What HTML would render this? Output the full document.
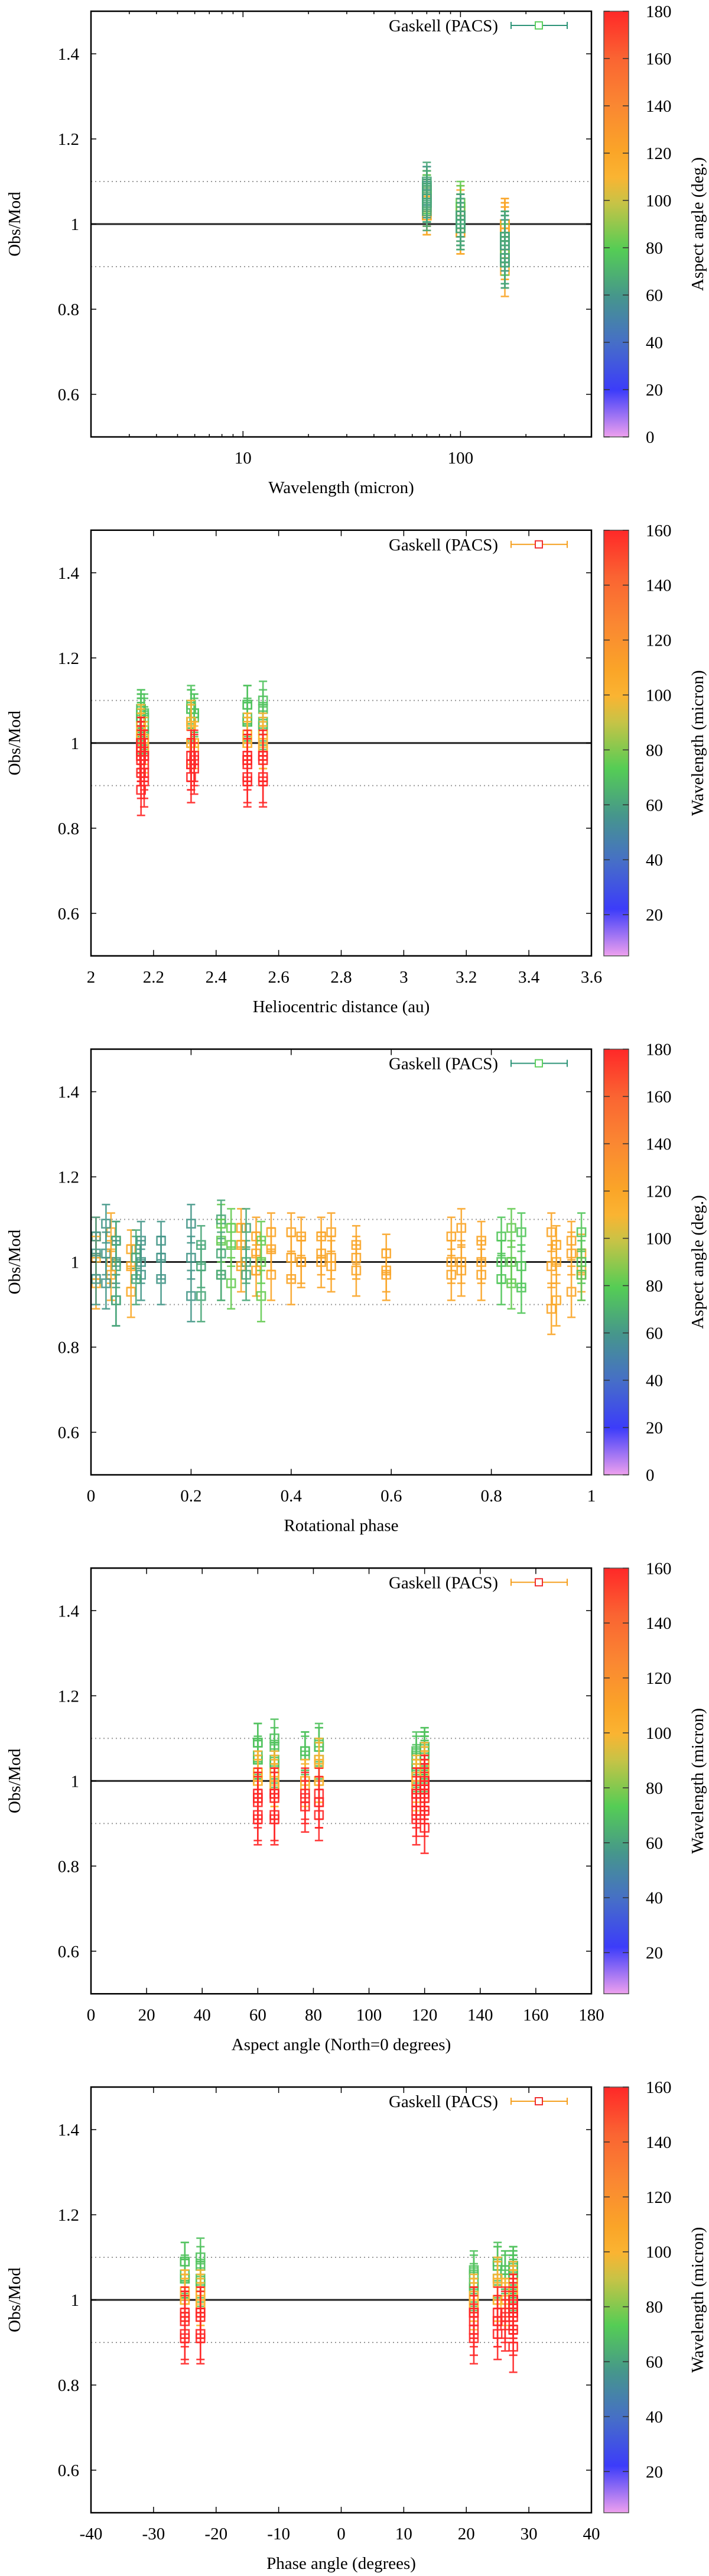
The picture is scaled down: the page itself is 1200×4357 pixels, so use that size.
<!DOCTYPE html>
<html><head><meta charset="utf-8">
<style>
html,body{margin:0;padding:0;background:#fff;}
svg{display:block;font-family:"Liberation Serif",serif;}
</style></head>
<body>
<svg id="fig" width="1200" height="4357" viewBox="0 0 1200 4357" xmlns="http://www.w3.org/2000/svg"></svg>
<script>
// ---- data (per epoch) ----
const epochAspect = [120, 117, 82, 77, 60, 66];
const epochRh     = [2.16, 2.17, 2.32, 2.33, 2.50, 2.55];
const epochPhase  = [27.5, 21.2, 25.0, 26.2, -25.0, -22.5];
// ---- data (per observation) ----
const obsEpoch = [0,0,0,0,0,0,0,0,0,0,0,0,0,0, 1,1,1,1,1, 2,2,2,2, 3,3,3, 4,4,4,4,4,4, 5,5,5,5,5];
const obsRot   = [0.30,0.33,0.36,0.40,0.42,0.46,0.48,0.53,0.59,0.72,0.74,0.78,0.92,0.96, 0.01,0.04,0.08,0.93,0.98, 0.26,0.28,0.34,0.84, 0.82,0.86,0.98, 0.01,0.03,0.05,0.10,0.14,0.20, 0.05,0.09,0.22,0.26,0.31];
const ratio70  = [1.08,1.06,1.07,1.07,1.06,1.06,1.07,1.04,1.02,1.06,1.08,1.05,1.07,1.05, 1.06,1.07,1.03,1.04,1.02, 1.09,1.08,1.05,1.08, 1.06,1.07,1.07, 1.06,1.09,1.05,1.05,1.05,1.09, 1.05,1.03,1.04,1.10,1.08];
const ratio100 = [1.04,1.02,1.03,1.01,1.00,1.02,1.01,1.01,0.98,1.00,1.00,1.00,0.99,1.02, 1.01,1.00,0.99,1.00,0.98, 1.05,1.04,1.00,1.00, 1.00,0.99,1.00, 1.02,1.02,1.00,1.00,1.01,1.01, 0.99,1.01,0.99,1.02,1.00];
const ratio160 = [0.99,0.98,0.97,0.96,1.00,1.00,0.99,0.98,0.97,0.97,0.98,0.97,0.89,0.93, 0.95,0.97,0.93,0.91,0.97, 0.97,0.95,0.92,0.95, 0.96,0.94,0.97, 0.96,0.95,0.91,0.97,0.96,0.92, 0.91,0.96,0.92,0.97,0.97];
const bands    = [70, 100, 160];
const bandErr  = [0.045, 0.05, 0.06];
const yTicks = [0.6, 0.8, 1, 1.2, 1.4];

const svg = document.getElementById('fig');
const NS = 'http://www.w3.org/2000/svg';
function mk(tag, attrs, parent){ const e=document.createElementNS(NS,tag); for(const k in attrs) e.setAttribute(k,attrs[k]); (parent||svg).appendChild(e); return e; }

const stops=[[0,[238,160,238]],[0.11,[60,60,250]],[0.22,[70,110,200]],[0.33,[70,150,140]],[0.44,[85,205,85]],[0.55,[200,195,70]],[0.61,[250,180,50]],[0.67,[250,165,40]],[0.78,[250,135,50]],[0.89,[250,100,50]],[1,[255,40,40]]];
function cmap(f){ f=Math.max(0,Math.min(1,f)); for(let i=1;i<stops.length;i++){ if(f<=stops[i][0]){ const a=stops[i-1],b=stops[i],t=(f-a[0])/(b[0]-a[0]); const c=a[1].map((v,j)=>Math.round(v+(b[1][j]-v)*t)); return 'rgb('+c.join(',')+')'; } } return 'rgb(255,40,40)'; }

const L=154, R=1001, H=720, PERIOD=877.75, T0=19;
const CBX=1022, CBW=42;

function panel(k, cfg){
  const top=T0+k*PERIOD, bot=top+H;
  const g=mk('g',{}); 
  
  const ys=v=>bot-(v-0.5)/1.0*H;
  const xs=cfg.xs;
  const l1=mk('line',{x1:L,x2:R,y1:ys(1.1),y2:ys(1.1),stroke:'#999','stroke-width':2,'stroke-dasharray':'2,5'},g);
   
  const l2=mk('line',{x1:L,x2:R,y1:ys(0.9),y2:ys(0.9),stroke:'#999','stroke-width':2,'stroke-dasharray':'2,5'},g);
   
  const l3=mk('line',{x1:L,x2:R,y1:ys(1),y2:ys(1),stroke:'#222','stroke-width':3},g);
   
  const pts=mk('g',{'stroke-width':2.6},g);
   
  for(let b=0;b<3;b++){
    const arr=[ratio70,ratio100,ratio160][b];
    for(let i=0;i<obsEpoch.length;i++){
      const ep=obsEpoch[i];
      const xv=cfg.xval(i,ep,b);
      const x=xs(xv), y=ys(arr[i]), e=bandErr[b];
      const cv=cfg.colorBy==='aspect'? epochAspect[ep]/180 : (bands[b]-5)/155;
      const col=cmap(cv);
      const p=mk('g',{stroke:col,fill:'none',opacity:0.9},pts);
       
      const y1=ys(arr[i]+e), y2=ys(arr[i]-e);
      mk('line',{x1:x,x2:x,y1:y1,y2:y2},p);
      mk('line',{x1:x-7,x2:x+7,y1:y1,y2:y1},p);
      mk('line',{x1:x-7,x2:x+7,y1:y2,y2:y2},p);
      mk('rect',{x:x-7,y:y-7,width:14,height:14},p);
    }
  }
  const fr=mk('rect',{x:L,y:top,width:R-L,height:H,fill:'none',stroke:'#000','stroke-width':2.5},g);
   
  yTicks.forEach(v=>{ const y=ys(v);
    mk('line',{x1:L,x2:L+9,y1:y,y2:y,stroke:'#000','stroke-width':1.5},g);
    mk('line',{x1:R,x2:R-9,y1:y,y2:y,stroke:'#000','stroke-width':1.5},g);
    const t=mk('text',{x:134,y:y+10,'font-size':29,'text-anchor':'end'},g); t.textContent=String(v);
     
  });
  cfg.xticks.forEach(v=>{ const x=xs(v);
    mk('line',{x1:x,x2:x,y1:bot,y2:bot-10,stroke:'#000','stroke-width':1.5},g);
    mk('line',{x1:x,x2:x,y1:top,y2:top+10,stroke:'#000','stroke-width':1.5},g);
    const t=mk('text',{x:x,y:bot+45,'font-size':29,'text-anchor':'middle'},g); t.textContent=cfg.fmt(v);
     
  });
  (cfg.minor||[]).forEach(v=>{ const x=xs(v);
    mk('line',{x1:x,x2:x,y1:bot,y2:bot-5,stroke:'#000','stroke-width':1.5},g);
    mk('line',{x1:x,x2:x,y1:top,y2:top+5,stroke:'#000','stroke-width':1.5},g);
  });
  const yt=mk('text',{x:0,y:0,'font-size':29,'text-anchor':'middle',transform:`translate(34,${ys(1)}) rotate(-90)`},g);
  yt.textContent='Obs/Mod';  
  const xt=mk('text',{x:(L+R)/2,y:bot+95,'font-size':29,'text-anchor':'middle'},g);
  xt.textContent=cfg.xtitle;  
  const lg=mk('g',{},g);  
  const lt=mk('text',{x:843,y:top+34,'font-size':29,'text-anchor':'end'},lg); lt.textContent='Gaskell (PACS)';
  const ly=top+24, lc=cfg.colorBy==='aspect'?'#2e9478':'#f5a020', sc=cfg.colorBy==='aspect'?'#5fd05f':'#f03030';
  mk('line',{x1:865,x2:960,y1:ly,y2:ly,stroke:lc,'stroke-width':2},lg);
  mk('line',{x1:865,x2:865,y1:ly-6,y2:ly+6,stroke:lc,'stroke-width':2},lg);
  mk('line',{x1:960,x2:960,y1:ly-6,y2:ly+6,stroke:lc,'stroke-width':2},lg);
  mk('rect',{x:906,y:ly-6,width:12,height:12,fill:'#fff',stroke:sc,'stroke-width':2},lg);
  const gid='cbg'+k;
  const defs=mk('defs',{},g);
  const lgr=mk('linearGradient',{id:gid,x1:0,y1:1,x2:0,y2:0},defs);
  stops.forEach(s=>mk('stop',{offset:s[0],'stop-color':cmap(s[0])},lgr));
  const cb=mk('rect',{x:CBX,y:top,width:CBW,height:H,fill:`url(#${gid})`,stroke:'#555','stroke-width':1.5},g);
   
  cfg.cbTicks.forEach(v=>{ const y=bot-(v-cfg.cbMin)/(cfg.cbMax-cfg.cbMin)*H;
    mk('line',{x1:CBX,x2:CBX+10,y1:y,y2:y,stroke:'#333','stroke-width':1.5},g);
    mk('line',{x1:CBX+CBW,x2:CBX+CBW-10,y1:y,y2:y,stroke:'#333','stroke-width':1.5},g);
    const t=mk('text',{x:1093,y:y+10,'font-size':29},g); t.textContent=String(v);
     
  });
  const ct=mk('text',{x:0,y:0,'font-size':29,'text-anchor':'middle',transform:`translate(1190,${top+H/2}) rotate(-90)`},g);
  ct.textContent=cfg.cbTitle;  
}

const lin=(a,b)=>v=>L+(v-a)/(b-a)*(R-L);
const aspCB={colorBy:'aspect',cbMin:0,cbMax:180,cbTicks:[0,20,40,60,80,100,120,140,160,180],cbTitle:'Aspect angle (deg.)'};
const wlCB={colorBy:'wl',cbMin:5,cbMax:160,cbTicks:[20,40,60,80,100,120,140,160],cbTitle:'Wavelength (micron)'};

panel(0,Object.assign({id:'wavelength',xs:v=>L+(Math.log10(v)-Math.log10(2))/(Math.log10(400)-Math.log10(2))*(R-L),
  xval:(i,ep,b)=>bands[b], xticks:[10,100], fmt:v=>String(v),
  minor:[3,4,5,6,7,8,9,20,30,40,50,60,70,80,90,200,300], xtitle:'Wavelength (micron)'},aspCB));
panel(1,Object.assign({id:'heliocentric',xs:lin(2,3.6),xval:(i,ep,b)=>epochRh[ep],
  xticks:[2,2.2,2.4,2.6,2.8,3,3.2,3.4,3.6], fmt:v=>String(v), xtitle:'Heliocentric distance (au)'},wlCB));
panel(2,Object.assign({id:'rotational-phase',xs:lin(0,1),xval:(i,ep,b)=>obsRot[i],
  xticks:[0,0.2,0.4,0.6,0.8,1], fmt:v=>String(v), xtitle:'Rotational phase'},aspCB));
panel(3,Object.assign({id:'aspect',xs:lin(0,180),xval:(i,ep,b)=>epochAspect[ep],
  xticks:[0,20,40,60,80,100,120,140,160,180], fmt:v=>String(v), xtitle:'Aspect angle (North=0 degrees)'},wlCB));
panel(4,Object.assign({id:'phase-angle',xs:lin(-40,40),xval:(i,ep,b)=>epochPhase[ep],
  xticks:[-40,-30,-20,-10,0,10,20,30,40], fmt:v=>String(v), xtitle:'Phase angle (degrees)'},wlCB));
</script>
</body></html>
